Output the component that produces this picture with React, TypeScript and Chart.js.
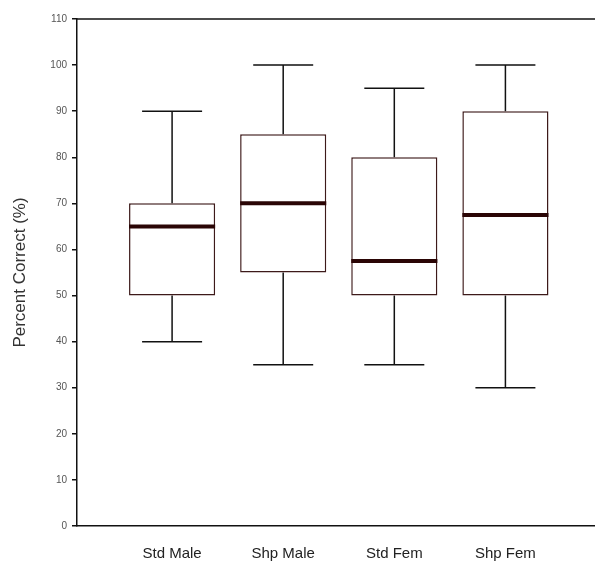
import React, { useEffect, useRef } from "react";
import { Chart, registerables } from "chart.js";

Chart.register(...registerables);

const CATEGORIES = ["Std Male", "Shp Male", "Std Fem", "Shp Fem"];
const MINS = [40, 35, 35, 30];
const Q1S = [50, 55, 50, 50];
const MEDIANS = [65, 70, 57.5, 67.5];
const Q3S = [70, 85, 80, 90];
const MAXS = [90, 100, 95, 100];
const Y_TICKS = [0, 10, 20, 30, 40, 50, 60, 70, 80, 90, 100, 110];

const BOX_FRACTION = 0.775; // box width as a fraction of category spacing
const CAP_HALF = 0.27; // whisker cap half-width in category units

export default function App() {
  const canvasRef = useRef<HTMLCanvasElement | null>(null);

  useEffect(() => {
    if (!canvasRef.current) return;
    const pos = CATEGORIES.map((_, i) => i + 1);
    const boxHalf = BOX_FRACTION / 2;

    const whiskerData: any[] = [];
    const capData: any[] = [];
    const medianData: any[] = [];
    pos.forEach((x, i) => {
      whiskerData.push({ x, y: Q3S[i] }, { x, y: MAXS[i] }, { x, y: null });
      whiskerData.push({ x, y: Q1S[i] }, { x, y: MINS[i] }, { x, y: null });
      capData.push({ x: x - CAP_HALF, y: MAXS[i] }, { x: x + CAP_HALF, y: MAXS[i] }, { x, y: null });
      capData.push({ x: x - CAP_HALF, y: MINS[i] }, { x: x + CAP_HALF, y: MINS[i] }, { x, y: null });
      medianData.push({ x: x - boxHalf, y: MEDIANS[i] }, { x: x + boxHalf, y: MEDIANS[i] }, { x, y: null });
    });

    const topBorder = {
      id: "topBorder",
      afterDraw(chart: any) {
        const { ctx, chartArea } = chart;
        ctx.save();
        ctx.strokeStyle = "#111";
        ctx.lineWidth = 1.5;
        ctx.beginPath();
        ctx.moveTo(chartArea.left, chartArea.top);
        ctx.lineTo(chartArea.right, chartArea.top);
        ctx.stroke();
        ctx.restore();
      },
    };

    const lineCommon = {
      type: "line" as const,
      pointRadius: 0,
      spanGaps: false,
      tension: 0,
      fill: false,
    };

    const chart = new Chart(canvasRef.current, {
      type: "bar",
      data: {
        datasets: [
          {
            ...lineCommon,
            label: "whiskers",
            data: whiskerData,
            borderColor: "#111",
            borderWidth: 1.5,
            order: 2,
          } as any,
          {
            ...lineCommon,
            label: "caps",
            data: capData,
            borderColor: "#111",
            borderWidth: 1.5,
            order: 2,
          } as any,
          {
            type: "bar",
            label: "box",
            data: pos.map((x, i) => ({ x, y: [Q1S[i], Q3S[i]] })),
            backgroundColor: "#ffffff",
            borderColor: "#3d1a1a",
            borderWidth: 1.5,
            borderSkipped: false,
            barPercentage: BOX_FRACTION,
            categoryPercentage: 1,
            order: 1,
          } as any,
          {
            ...lineCommon,
            label: "median",
            data: medianData,
            borderColor: "#2a0505",
            borderWidth: 4,
            order: 0,
          } as any,
        ],
      },
      options: {
        animation: false,
        responsive: true,
        maintainAspectRatio: false,
        layout: { padding: { top: 19, right: 0, left: 0, bottom: 0 } },
        plugins: { legend: { display: false }, tooltip: { enabled: false } },
        scales: {
          x: {
            type: "linear",
            offset: false,
            min: 1 - 95 / 111,
            max: 4 + 89.5 / 111,
            grid: { display: false, offset: false },
            border: { display: true, color: "#111", width: 1.5 },
            afterBuildTicks: (scale: any) => {
              scale.ticks = pos.map((v) => ({ value: v }));
            },
            afterFit: (scale: any) => {
              scale.height = 46;
            },
            ticks: {
              autoSkip: false,
              maxRotation: 0,
              padding: 11,
              color: "#222",
              font: { family: "'Liberation Sans', Arial, sans-serif", size: 15 },
              callback: (v: any) => CATEGORIES[Math.round(Number(v)) - 1] ?? "",
            },
          },
          y: {
            type: "linear",
            min: 0,
            max: 110,
            afterBuildTicks: (scale: any) => {
              scale.ticks = Y_TICKS.map((v) => ({ value: v }));
            },
            afterFit: (scale: any) => {
              scale.width = 77;
            },
            grid: {
              display: true,
              drawOnChartArea: false,
              drawTicks: true,
              tickLength: 5,
              color: "#111",
              lineWidth: 1.5,
            },
            border: { display: true, color: "#111", width: 1.5 },
            ticks: {
              padding: 5,
              color: "#555",
              font: { family: "'Liberation Sans', Arial, sans-serif", size: 10 },
            },
            title: {
              display: true,
              text: "Percent Correct (%)",
              color: "#333",
              padding: { top: 10, bottom: 0 },
              font: { family: "'Liberation Sans', Arial, sans-serif", size: 17 },
            },
          },
        },
      },
      plugins: [topBorder],
    } as any);

    return () => chart.destroy();
  }, []);

  return (
    <div style={{ position: "absolute", left: 0, top: 0, width: 595, height: 572, background: "#fff" }}>
      <canvas ref={canvasRef} />
    </div>
  );
}
